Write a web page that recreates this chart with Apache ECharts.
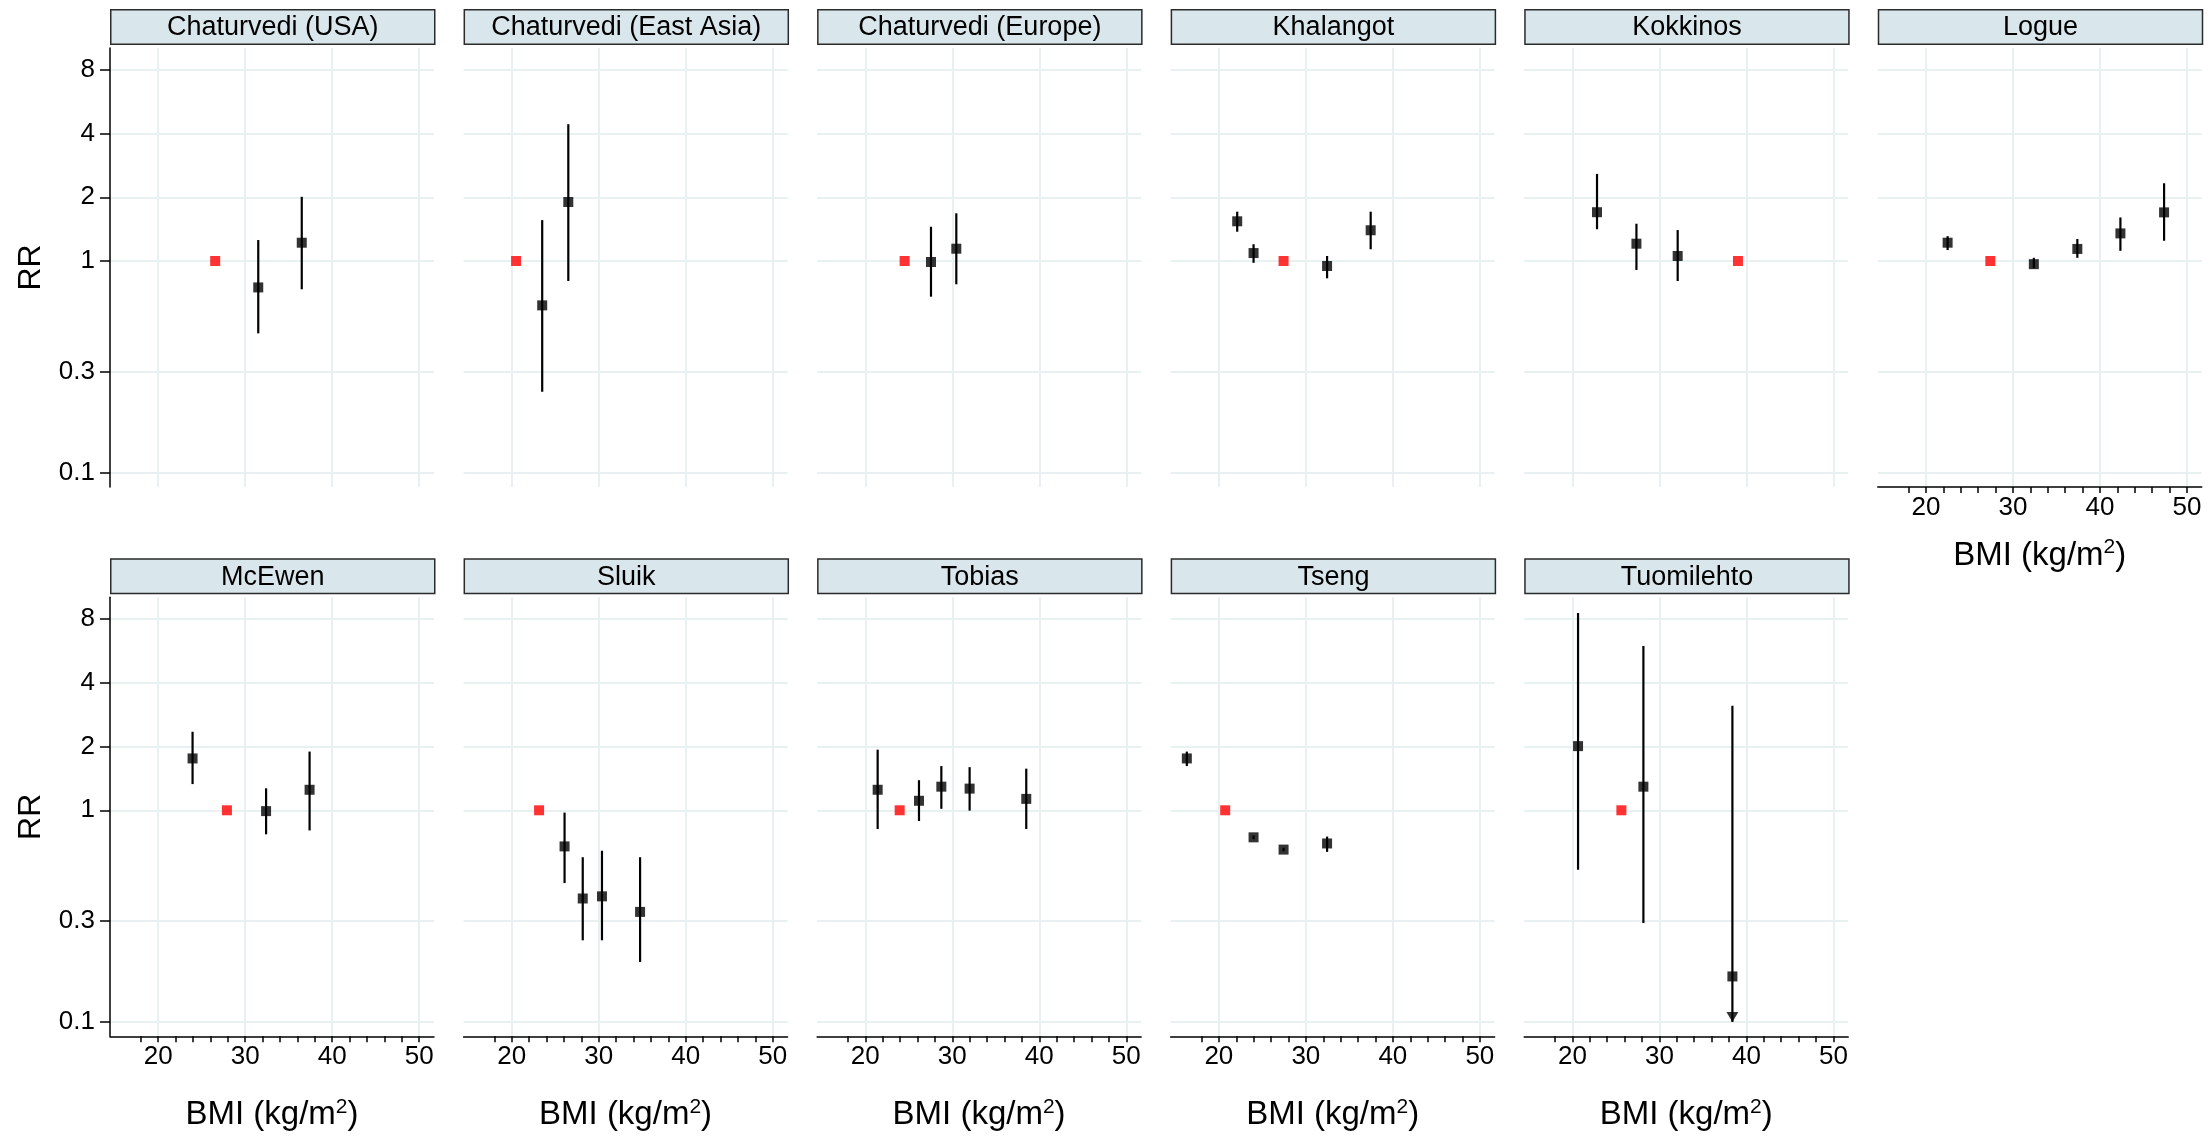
<!DOCTYPE html>
<html>
<head>
<meta charset="utf-8">
<script src="https://cdn.jsdelivr.net/npm/echarts@6/dist/echarts.min.js"></script>
<style>
  html, body { margin: 0; padding: 0; background: #fff; }
  #chart { width: 2208px; height: 1138px; }
</style>
</head>
<body>
<div id="chart"></div>
<script>
// ---------------- DATA ----------------
const panelTitles = ['Chaturvedi (USA)', 'Chaturvedi (East Asia)', 'Chaturvedi (Europe)', 'Khalangot', 'Kokkinos', 'Logue',
                     'McEwen', 'Sluik', 'Tobias', 'Tseng', 'Tuomilehto'];
// reference category (RR = 1), one per panel
const refBMI = [26.55, 20.5, 24.52, 27.44, 39.03, 27.4, 27.9, 23.14, 23.95, 20.73, 25.63];
const refRR = [1, 1, 1, 1, 1, 1, 1, 1, 1, 1, 1];

const chaturvediUSA_bmi = [31.5, 36.5];
const chaturvediUSA_rr  = [0.75, 1.22];
const chaturvediUSA_lo  = [0.455, 0.735];
const chaturvediUSA_hi  = [1.256, 2.01];

const chaturvediEA_bmi = [23.5, 26.5];
const chaturvediEA_rr  = [0.617, 1.90];
const chaturvediEA_lo  = [0.241, 0.804];
const chaturvediEA_hi  = [1.56, 4.43];

const chaturvediEU_bmi = [27.55, 30.46];
const chaturvediEU_rr  = [0.989, 1.143];
const chaturvediEU_lo  = [0.678, 0.776];
const chaturvediEU_hi  = [1.452, 1.68];

const khalangot_bmi = [22.11, 23.99, 32.44, 37.45];
const khalangot_rr  = [1.54, 1.09, 0.947, 1.397];
const khalangot_lo  = [1.375, 0.98, 0.828, 1.136];
const khalangot_hi  = [1.71, 1.20, 1.056, 1.71];

const kokkinos_bmi = [22.83, 27.36, 32.1];
const kokkinos_rr  = [1.70, 1.207, 1.056];
const kokkinos_lo  = [1.412, 0.907, 0.804];
const kokkinos_hi  = [2.58, 1.50, 1.40];

const logue_bmi = [22.49, 32.4, 37.4, 42.35, 47.37];
const logue_rr  = [1.22, 0.966, 1.14, 1.35, 1.697];
const logue_lo  = [1.126, 0.925, 1.035, 1.117, 1.246];
const logue_hi  = [1.31, 1.035, 1.27, 1.606, 2.33];

const mcewen_bmi = [23.95, 32.4, 37.4];
const mcewen_rr  = [1.758, 0.991, 1.25];
const mcewen_lo  = [1.33, 0.77, 0.803];
const mcewen_hi  = [2.35, 1.27, 1.894];

const sluik_bmi = [26.07, 28.16, 30.37, 34.75];
const sluik_rr  = [0.675, 0.383, 0.392, 0.331];
const sluik_lo  = [0.453, 0.243, 0.243, 0.192];
const sluik_hi  = [0.975, 0.60, 0.644, 0.60];

const tobias_bmi = [21.42, 26.17, 28.74, 31.99, 38.5];
const tobias_rr  = [1.25, 1.109, 1.293, 1.266, 1.132];
const tobias_lo  = [0.816, 0.89, 1.016, 0.996, 0.816];
const tobias_hi  = [1.934, 1.387, 1.618, 1.599, 1.573];

const tseng_bmi = [16.32, 23.99, 27.44, 32.44];
const tseng_rr  = [1.758, 0.745, 0.652, 0.697];
const tseng_lo  = [1.618, 0.73, 0.64, 0.636];
const tseng_hi  = [1.894, 0.76, 0.665, 0.751];

const tuomilehto_bmi = [20.65, 28.16, 38.39];
const tuomilehto_rr  = [2.01, 1.293, 0.164];
const tuomilehto_lo  = [0.523, 0.293, 0.1];
const tuomilehto_hi  = [8.55, 5.98, 3.12];
const tuomilehto_truncatedLow = [false, false, true];

// axis ticks
const xTickValues  = [18, 20, 22, 24, 26, 28, 30, 32, 34, 36, 38, 40, 42, 44, 46, 48, 50];
const xLabelValues = [20, 30, 40, 50];
const yTickValues  = [0.1, 0.3, 1, 2, 4, 8];
const xRange = [14.46, 51.7];
const yRange = [0.0855, 10.15];

// ---------------- LAYOUT ----------------
const FONT = '"Liberation Sans", Arial, Helvetica, sans-serif';
const colLeft = c => 110 + c * 353.55;
const rowTop = [48, 597.3];
const stripTop = [9, 558.2];
const PW = 324, PH = 439, SH = 34.5;

const panelData = [
  [chaturvediUSA_bmi, chaturvediUSA_rr, chaturvediUSA_lo, chaturvediUSA_hi],
  [chaturvediEA_bmi, chaturvediEA_rr, chaturvediEA_lo, chaturvediEA_hi],
  [chaturvediEU_bmi, chaturvediEU_rr, chaturvediEU_lo, chaturvediEU_hi],
  [khalangot_bmi, khalangot_rr, khalangot_lo, khalangot_hi],
  [kokkinos_bmi, kokkinos_rr, kokkinos_lo, kokkinos_hi],
  [logue_bmi, logue_rr, logue_lo, logue_hi],
  [mcewen_bmi, mcewen_rr, mcewen_lo, mcewen_hi],
  [sluik_bmi, sluik_rr, sluik_lo, sluik_hi],
  [tobias_bmi, tobias_rr, tobias_lo, tobias_hi],
  [tseng_bmi, tseng_rr, tseng_lo, tseng_hi],
  [tuomilehto_bmi, tuomilehto_rr, tuomilehto_lo, tuomilehto_hi]
];
const truncatedLow = {10: tuomilehto_truncatedLow};

const GRID_COLOR = '#e8f0f2';

function renderErrorBar(params, api) {
  const x = api.value(0);
  const a = api.coord([x, api.value(1)]);
  const b = api.coord([x, api.value(2)]);
  return {
    type: 'line',
    shape: { x1: a[0], y1: a[1], x2: b[0], y2: b[1] },
    style: { stroke: '#000', lineWidth: 2.2 }
  };
}

const grids = [], xAxes = [], yAxes = [], series = [], graphics = [];

panelTitles.forEach((title, i) => {
  const row = i < 6 ? 0 : 1;
  const col = i < 6 ? i : i - 6;
  const left = colLeft(col);
  const showX = row === 1 || i === 5;
  const showY = col === 0;

  grids.push({ left: left, top: rowTop[row], width: PW, height: PH, containLabel: false });

  // main x axis (line, ticks, labels, title)
  xAxes.push({
    gridIndex: i, type: 'value', min: xRange[0], max: xRange[1], position: 'bottom',
    axisLine: { show: showX, onZero: false, lineStyle: { color: '#000', width: 1.5 } },
    axisTick: { show: showX, customValues: xTickValues, length: 6, lineStyle: { color: '#000', width: 1.5 } },
    axisLabel: { show: showX, customValues: xLabelValues, fontSize: 26, color: '#000', margin: 8, fontFamily: FONT },
    splitLine: { show: false },
    name: showX ? 'BMI (kg/m{sup|2})' : '',
    nameLocation: 'middle',
    nameGap: row === 0 ? 50 : 60,
    nameTextStyle: {
      fontSize: 33, color: '#000', fontFamily: FONT, lineHeight: 38,
      rich: { sup: { fontSize: 21, color: '#000', fontFamily: FONT, lineHeight: 38, verticalAlign: 'top', padding: [0, 0, 14, 0] } }
    }
  });
  // grid-line x axis
  xAxes.push({
    gridIndex: i, type: 'value', min: xRange[0], max: xRange[1], position: 'bottom',
    axisLine: { show: false }, axisLabel: { show: false },
    axisTick: { show: false, customValues: xLabelValues },
    splitLine: { show: true, lineStyle: { color: GRID_COLOR, width: 2 } }
  });

  yAxes.push({
    gridIndex: i, type: 'log', logBase: 10, min: yRange[0], max: yRange[1],
    axisLine: { show: showY, lineStyle: { color: '#000', width: 1.5 } },
    axisTick: { show: showY, customValues: yTickValues, length: 10, lineStyle: { color: '#000', width: 1.5 } },
    axisLabel: { show: showY, customValues: yTickValues, fontSize: 26, color: '#000', margin: 15, fontFamily: FONT,
                 formatter: v => String(+(+v).toPrecision(3)) },
    splitLine: { show: true, lineStyle: { color: GRID_COLOR, width: 2 } },
    name: showY ? 'RR' : '',
    nameLocation: 'middle',
    nameGap: 63,
    nameTextStyle: { fontSize: 32, color: '#000', fontFamily: FONT }
  });

  const [bmi, rr, lo, hi] = panelData[i];
  series.push({
    type: 'custom', xAxisIndex: 2 * i, yAxisIndex: i,
    renderItem: renderErrorBar,
    encode: { x: 0, y: [1, 2] },
    data: bmi.map((b, k) => [b, lo[k], hi[k]]),
    silent: true, z: 2
  });
  if (truncatedLow[i]) {
    series.push({
      type: 'scatter', xAxisIndex: 2 * i, yAxisIndex: i,
      symbol: 'path://M0,0 L10,0 L5,10 Z', symbolSize: [12, 10], symbolOffset: [0, -5],
      itemStyle: { color: '#000' },
      data: bmi.map((b, k) => [b, lo[k]]).filter((d, k) => truncatedLow[i][k]),
      silent: true, z: 3
    });
  }
  series.push({
    type: 'scatter', xAxisIndex: 2 * i, yAxisIndex: i,
    symbol: 'rect', symbolSize: 10,
    itemStyle: { color: '#000' },
    data: bmi.map((b, k) => [b, rr[k]]),
    silent: true, z: 4
  });
  series.push({
    type: 'scatter', xAxisIndex: 2 * i, yAxisIndex: i,
    symbol: 'rect', symbolSize: 10,
    itemStyle: { color: '#ff0000' },
    data: [[refBMI[i], refRR[i]]],
    silent: true, z: 4
  });

  // strip header
  graphics.push({
    type: 'group', left: left, top: stripTop[row],
    children: [
      { type: 'rect', shape: { x: 0, y: 0, width: PW, height: SH },
        style: { fill: '#d9e6eb', stroke: '#2b2b2b', lineWidth: 1.5 } },
      { type: 'text', x: PW / 2, y: SH / 2 + 1,
        style: { text: title, fontSize: 27, fontFamily: FONT, fill: '#000', align: 'center', verticalAlign: 'middle' } }
    ]
  });
});

const chart = echarts.init(document.getElementById('chart'), null, { renderer: 'canvas' });
chart.setOption({
  animation: false,
  backgroundColor: '#ffffff',
  grid: grids,
  xAxis: xAxes,
  yAxis: yAxes,
  series: series,
  graphic: graphics
});
</script>
</body>
</html>
